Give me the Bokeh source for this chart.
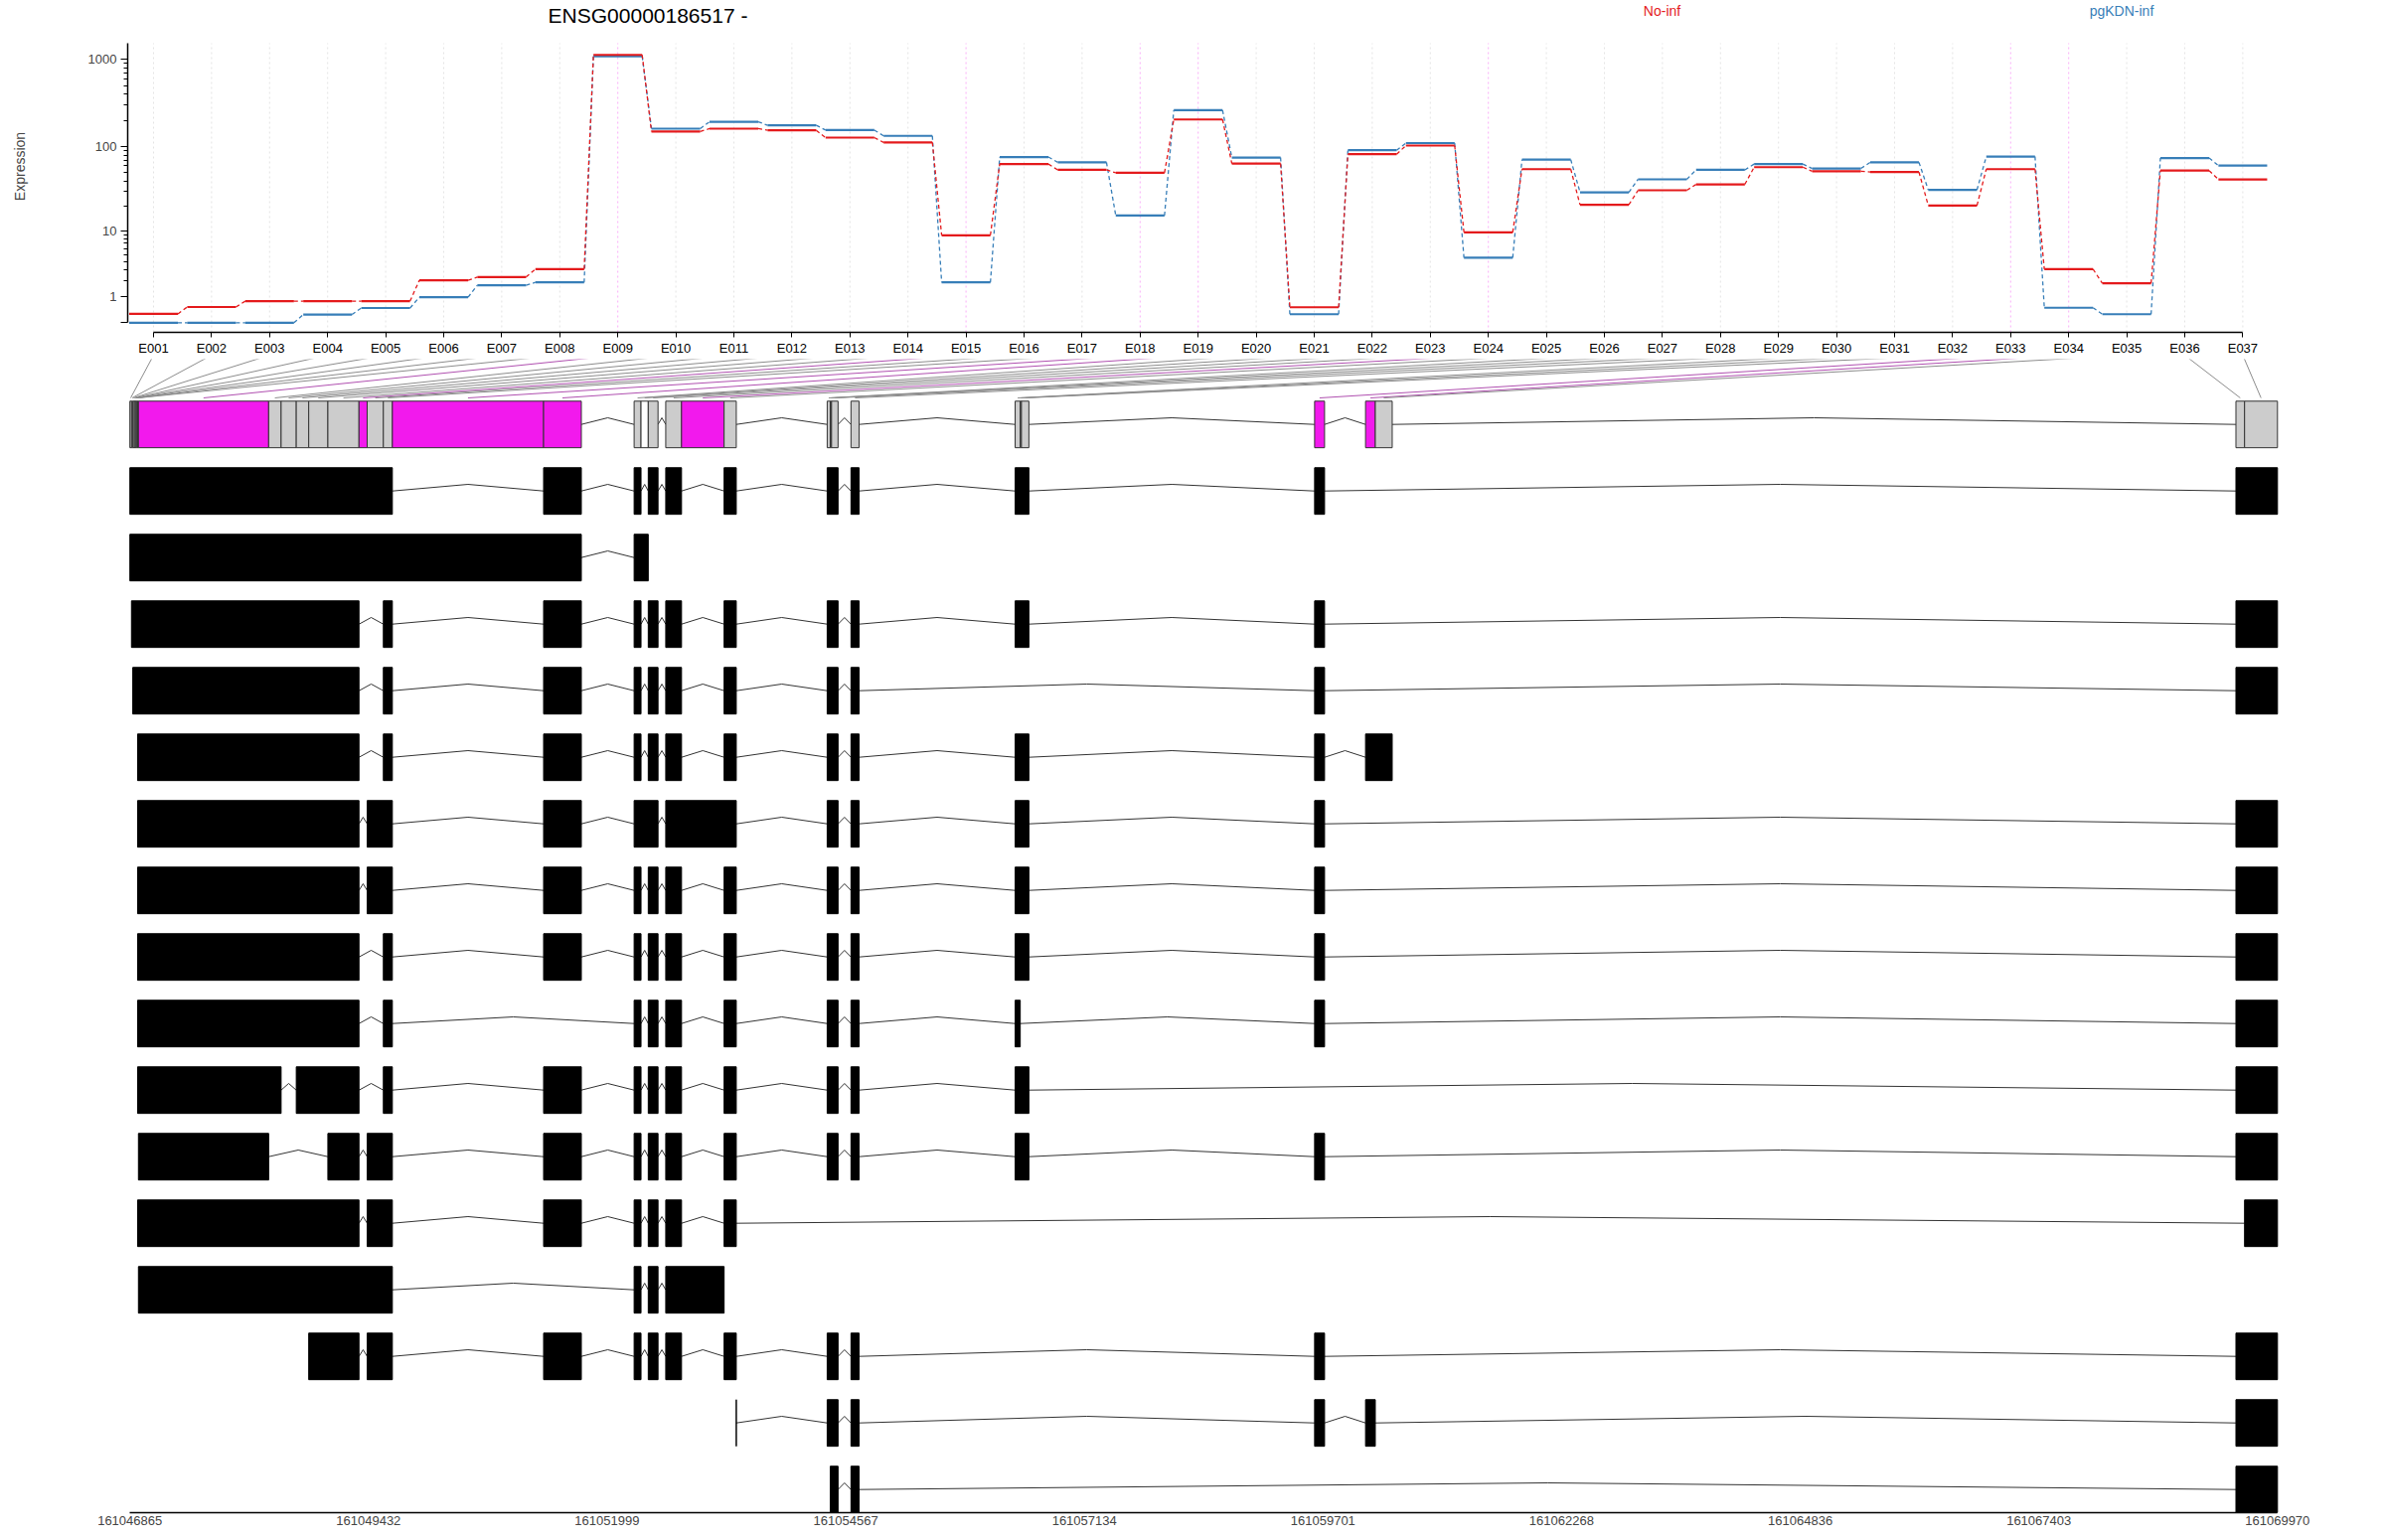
import numpy as np
from bokeh.plotting import figure
from bokeh.models import Range1d, FixedTicker, CustomJSTickFormatter, LinearAxis
from bokeh.layouts import column
from bokeh.embed import file_html
from bokeh.resources import INLINE
from bokeh.core.properties import value

FONT = "Liberation Sans"

# ---------------- data ----------------
gene_title = "ENSG00000186517 -"
condition_names = ["No-inf", "pgKDN-inf"]
condition_colors = ["#E41A1C", "#377EB8"]

exon_ids = ["E001", "E002", "E003", "E004", "E005", "E006", "E007", "E008", "E009", "E010",
            "E011", "E012", "E013", "E014", "E015", "E016", "E017", "E018", "E019", "E020",
            "E021", "E022", "E023", "E024", "E025", "E026", "E027", "E028", "E029", "E030",
            "E031", "E032", "E033", "E034", "E035", "E036", "E037"]

expr_no_inf = [0.26, 0.51, 0.76, 0.76, 0.76, 2.04, 2.31, 3.08, 1119, 149,
               161, 154, 127, 112, 8.9, 63, 54, 50, 205, 64,
               0.50, 82, 103, 9.7, 55, 21, 31.2, 36.6, 58, 52,
               51, 20.6, 55, 3.07, 1.81, 53, 41.8]
expr_pgkdn_inf = [0, 0, 0, 0.24, 0.47, 0.95, 1.67, 1.88, 1080, 161,
                  193, 176, 155, 133, 1.88, 76, 66, 15.6, 262, 75,
                  0.25, 91, 110, 4.5, 71, 29.5, 41.9, 54, 63, 56,
                  66, 31.5, 77, 0.48, 0.25, 74, 60.5]

bin_starts = [161046865, 161046882, 161046896, 161046911, 161046922, 161046932, 161046941, 161046948,
              161046957, 161048358, 161048492, 161048655, 161048789, 161048995, 161049330, 161049418,
              161049592, 161049689, 161051316, 161052290, 161052364, 161052442, 161052630, 161052800,
              161053258, 161054367, 161054400, 161054414, 161054623, 161056389, 161056444, 161056457,
              161059611, 161060159, 161060264, 161069523, 161069616]
bin_ends = [161046882, 161046896, 161046911, 161046922, 161046932, 161046941, 161046948, 161046957,
            161048358, 161048492, 161048655, 161048789, 161048995, 161049330, 161049418, 161049592,
            161049689, 161051316, 161051722, 161052364, 161052442, 161052547, 161052800, 161053258,
            161053389, 161054400, 161054414, 161054484, 161054710, 161056444, 161056457, 161056537,
            161059718, 161060264, 161060446, 161069616, 161069970]
# sig = significant (magenta), ns = tested (grey), na = not tested (white)
bin_status = ["ns", "ns", "na", "na", "na", "na", "na", "ns", "sig", "ns",
              "ns", "ns", "ns", "ns", "sig", "ns", "ns", "sig", "sig", "ns",
              "na", "ns", "ns", "sig", "ns", "ns", "ns", "ns", "ns", "ns",
              "ns", "ns", "sig", "sig", "ns", "ns", "ns"]

# transcripts: exons as (first bin, last bin); (a, b, "pt") = zero-width exon at end of bin b
transcripts = [
    [(1, 17), (19, 19), (20, 20), (22, 22), (23, 23), (25, 25), (26, 28), (29, 29), (30, 32), (33, 33), (36, 37)],
    [(1, 19), (20, 21)],
    [(2, 14), (17, 17), (19, 19), (20, 20), (22, 22), (23, 23), (25, 25), (26, 28), (29, 29), (30, 32), (33, 33), (36, 37)],
    [(3, 14), (17, 17), (19, 19), (20, 20), (22, 22), (23, 23), (25, 25), (26, 28), (29, 29), (33, 33), (36, 37)],
    [(8, 14), (17, 17), (19, 19), (20, 20), (22, 22), (23, 23), (25, 25), (26, 28), (29, 29), (30, 32), (33, 33), (34, 35)],
    [(8, 14), (16, 17), (19, 19), (20, 22), (23, 25), (26, 28), (29, 29), (30, 32), (33, 33), (36, 37)],
    [(8, 14), (16, 17), (19, 19), (20, 20), (22, 22), (23, 23), (25, 25), (26, 28), (29, 29), (30, 32), (33, 33), (36, 37)],
    [(8, 14), (17, 17), (19, 19), (20, 20), (22, 22), (23, 23), (25, 25), (26, 28), (29, 29), (30, 32), (33, 33), (36, 37)],
    [(8, 14), (17, 17), (20, 20), (22, 22), (23, 23), (25, 25), (26, 28), (29, 29), (30, 30), (33, 33), (36, 37)],
    [(8, 10), (12, 14), (17, 17), (19, 19), (20, 20), (22, 22), (23, 23), (25, 25), (26, 28), (29, 29), (30, 32), (36, 37)],
    [(9, 9), (14, 14), (16, 17), (19, 19), (20, 20), (22, 22), (23, 23), (25, 25), (26, 28), (29, 29), (30, 32), (33, 33), (36, 37)],
    [(8, 14), (16, 17), (19, 19), (20, 20), (22, 22), (23, 23), (25, 25), (37, 37)],
    [(9, 17), (20, 20), (22, 22), (23, 24)],
    [(13, 14), (16, 17), (19, 19), (20, 20), (22, 22), (23, 23), (25, 25), (26, 28), (29, 29), (33, 33), (36, 37)],
    [(25, 25, "pt"), (26, 28), (29, 29), (33, 33), (34, 34), (36, 37)],
    [(27, 28), (29, 29), (36, 37)],
]

genomic_ticks = [161046865, 161049432, 161051999, 161054567, 161057134,
                 161059701, 161062268, 161064836, 161067403, 161069970]
expr_major_ticks = [0, 1, 10, 100, 1000]
expr_major_labels = ["", "1", "10", "100", "1000"]
expr_minor_ticks = [2, 3, 4, 5, 6, 7, 8, 9, 20, 30, 40, 50, 60, 70, 80, 90,
                    200, 300, 400, 500, 600, 700, 800, 900]
expr_axis_top = 1520

# ---------------- layout helpers (page pixel geometry) ----------------
W = 2400
H_TOTAL = 1550
SPLIT = 361                    # page y where the lower panel starts
H1 = SPLIT
H2 = H_TOTAL - SPLIT
FR_L, FR_R = 128, 2294         # shared frame left/right (page px)
BL, BR = FR_L, W - FR_R
FW = FR_R - FR_L

def idx_of(px):               # exon-index coordinate for a page pixel x
    return 1 + (px - 154.0) / 58.4

def lg(v):                    # expression scale: log10(count + 1)
    return np.log10(np.asarray(v, dtype=float) + 1.0)

def lg_of(py):                # log value for a page pixel y
    return (324.3 - py) / 88.4

G0 = bin_starts[0]
BP_PER_PX = (bin_ends[-1] - bin_starts[0]) / (2291.3 - 130.2)

def g_of(px):                 # genomic coordinate for a page pixel x
    return G0 + (px - 130.2) * BP_PER_PX

def row_of(py):               # row coordinate for a page pixel y
    return (py - 426.7) / 67.0

# ---------------- top panel: expression ----------------
F1_BOT = 334
x1s, x1e = idx_of(FR_L), idx_of(FR_R)
y1s, y1e = lg_of(F1_BOT), lg_of(0)
p1 = figure(width=W, height=H1, x_range=Range1d(x1s, x1e), y_range=Range1d(y1s, y1e),
            x_axis_type=None, y_axis_type=None, output_backend="svg", toolbar_location=None,
            min_border_left=BL, min_border_right=BR, min_border_top=0,
            min_border_bottom=H1 - F1_BOT)
p1.outline_line_color = None
p1.background_fill_color = "white"

n = len(exon_ids)
xi = np.arange(1, n + 1)

# dotted vertical guide lines
vcol = ["#F219ED" if s == "sig" else "#B3B3B3" for s in bin_status]
p1.segment(x0=xi, y0=[y1s] * n, x1=xi, y1=[float(lg(expr_axis_top))] * n,
           line_color=vcol, line_alpha=0.35, line_width=1, line_dash="2 3")

half = 0.42
for vals, col in [(expr_pgkdn_inf, condition_colors[1]), (expr_no_inf, condition_colors[0])]:
    L = lg(vals)
    p1.segment(x0=xi[:-1] + half, y0=L[:-1], x1=xi[1:] - half, y1=L[1:],
               line_color=col, line_width=1.3, line_dash="4 3")
    p1.segment(x0=xi - half, y0=L, x1=xi + half, y1=L, line_color=col, line_width=2.2)

xax = LinearAxis(ticker=FixedTicker(ticks=list(range(1, n + 1))),
                 formatter=CustomJSTickFormatter(args=dict(labels=exon_ids),
                                                 code="return labels[Math.round(tick) - 1];"),
                 bounds=(1, n))
xax.major_tick_out = 5
xax.major_tick_in = 0
xax.major_label_standoff = 3
xax.axis_line_width = 1.5
xax.major_label_text_font = FONT
xax.major_label_text_font_size = "13px"
xax.major_label_text_color = "black"
p1.add_layout(xax, "below")

yt = [float(v) for v in lg(expr_major_ticks)]
yax = LinearAxis(ticker=FixedTicker(ticks=yt, minor_ticks=[float(v) for v in lg(expr_minor_ticks)]),
                 formatter=CustomJSTickFormatter(args=dict(t=yt, labels=expr_major_labels),
                     code="for (let i = 0; i < t.length; i++) { if (Math.abs(t[i] - tick) < 1e-6) return labels[i]; } return '';"),
                 bounds=(0, float(lg(expr_axis_top))))
yax.axis_label = "Expression"
yax.axis_label_standoff = 58
yax.axis_label_text_font = FONT
yax.axis_label_text_font_size = "14px"
yax.axis_label_text_font_style = "normal"
yax.major_tick_out = 7
yax.major_tick_in = 0
yax.minor_tick_out = 4
yax.minor_tick_in = 0
yax.major_label_standoff = 4
yax.axis_line_width = 1.5
yax.major_label_text_font = FONT
yax.major_label_text_font_size = "13px"
p1.add_layout(yax, "left")

# title and condition legend
p1.text(x=[idx_of(651.5)], y=[lg_of(14.5)], text=[gene_title], text_font=value(FONT),
        text_font_size="21px", text_align="center", text_baseline="middle", text_color="black")
p1.text(x=[idx_of(1672), idx_of(2134.5)], y=[lg_of(10), lg_of(10)], text=condition_names,
        text_font=value(FONT), text_font_size="14px", text_align="center", text_baseline="middle",
        text_color=condition_colors)

# ---------------- bottom panel: gene model and transcripts ----------------
F2_BOT = 1522
x2s, x2e = g_of(FR_L), g_of(FR_R)
y2bot, y2top = row_of(F2_BOT), row_of(SPLIT)
p2 = figure(width=W, height=H2, x_range=Range1d(x2s, x2e), y_range=Range1d(y2bot, y2top),
            x_axis_type=None, y_axis_type=None, output_backend="svg", toolbar_location=None,
            min_border_left=BL, min_border_right=BR, min_border_top=0,
            min_border_bottom=H_TOTAL - F2_BOT)
p2.outline_line_color = None
p2.background_fill_color = "white"

bs = np.array(bin_starts, dtype=float)
be = np.array(bin_ends, dtype=float)
mids = (bs + be) / 2.0

# connectors from exon ticks (top panel) to bins in the gene model
tick_px = FR_L + (xi - x1s) / (x1e - x1s) * FW
tick_g = g_of(tick_px)
ccol = ["#B050B0" if s == "sig" else "#8C8C8C" for s in bin_status]
p2.segment(x0=tick_g, y0=[row_of(357)] * n, x1=mids, y1=[row_of(400)] * n,
           line_color=ccol, line_width=1)

BH = 0.35     # half box height (rows)
PK = 0.10     # intron peak height (rows)

def chevrons(starts, ends, row):
    xs, ys = [], []
    for j in range(len(starts) - 1):
        a, b = ends[j], starts[j + 1]
        if b > a:
            xs.append([a, (a + b) / 2.0, b])
            ys.append([row, row - PK, row])
    return xs, ys

# gene model (row 0)
gx, gy = chevrons(bs, be, 0.0)
p2.multi_line(xs=gx, ys=gy, line_color="#333333", line_width=1)
fill = ["#F219ED" if s == "sig" else ("#CCCCCC" if s == "ns" else "white") for s in bin_status]
p2.quad(left=bs, right=be, top=[-BH] * n, bottom=[BH] * n, fill_color=fill,
        line_color="#333333", line_width=1)

# transcripts
def exon_coords(ex):
    if len(ex) == 3:
        e = bin_ends[ex[1] - 1]
        return e, e
    return bin_starts[ex[0] - 1], bin_ends[ex[1] - 1]

all_l, all_r, all_t, all_b = [], [], [], []
ixs, iys = [], []
for r, tr in enumerate(transcripts, start=1):
    cs = [exon_coords(e) for e in tr]
    st = [c[0] for c in cs]
    en = [c[1] for c in cs]
    cx, cy = chevrons(st, en, float(r))
    ixs += cx
    iys += cy
    all_l += st
    all_r += en
    all_t += [r - BH] * len(st)
    all_b += [r + BH] * len(st)

p2.multi_line(xs=ixs, ys=iys, line_color="#333333", line_width=1)
p2.quad(left=all_l, right=all_r, top=all_t, bottom=all_b, fill_color="black",
        line_color="black", line_width=1)

gax = LinearAxis(ticker=FixedTicker(ticks=genomic_ticks),
                 formatter=CustomJSTickFormatter(code="return tick.toFixed(0);"),
                 bounds=(bin_starts[0], bin_ends[-1]))
gax.major_tick_out = 0
gax.major_tick_in = 0
gax.major_label_standoff = 3
gax.axis_line_width = 1.5
gax.major_label_text_font = FONT
gax.major_label_text_font_size = "13px"
p2.add_layout(gax, "below")

layout = column(p1, p2, spacing=0)
open("out.html", "w").write(file_html(layout, INLINE))
